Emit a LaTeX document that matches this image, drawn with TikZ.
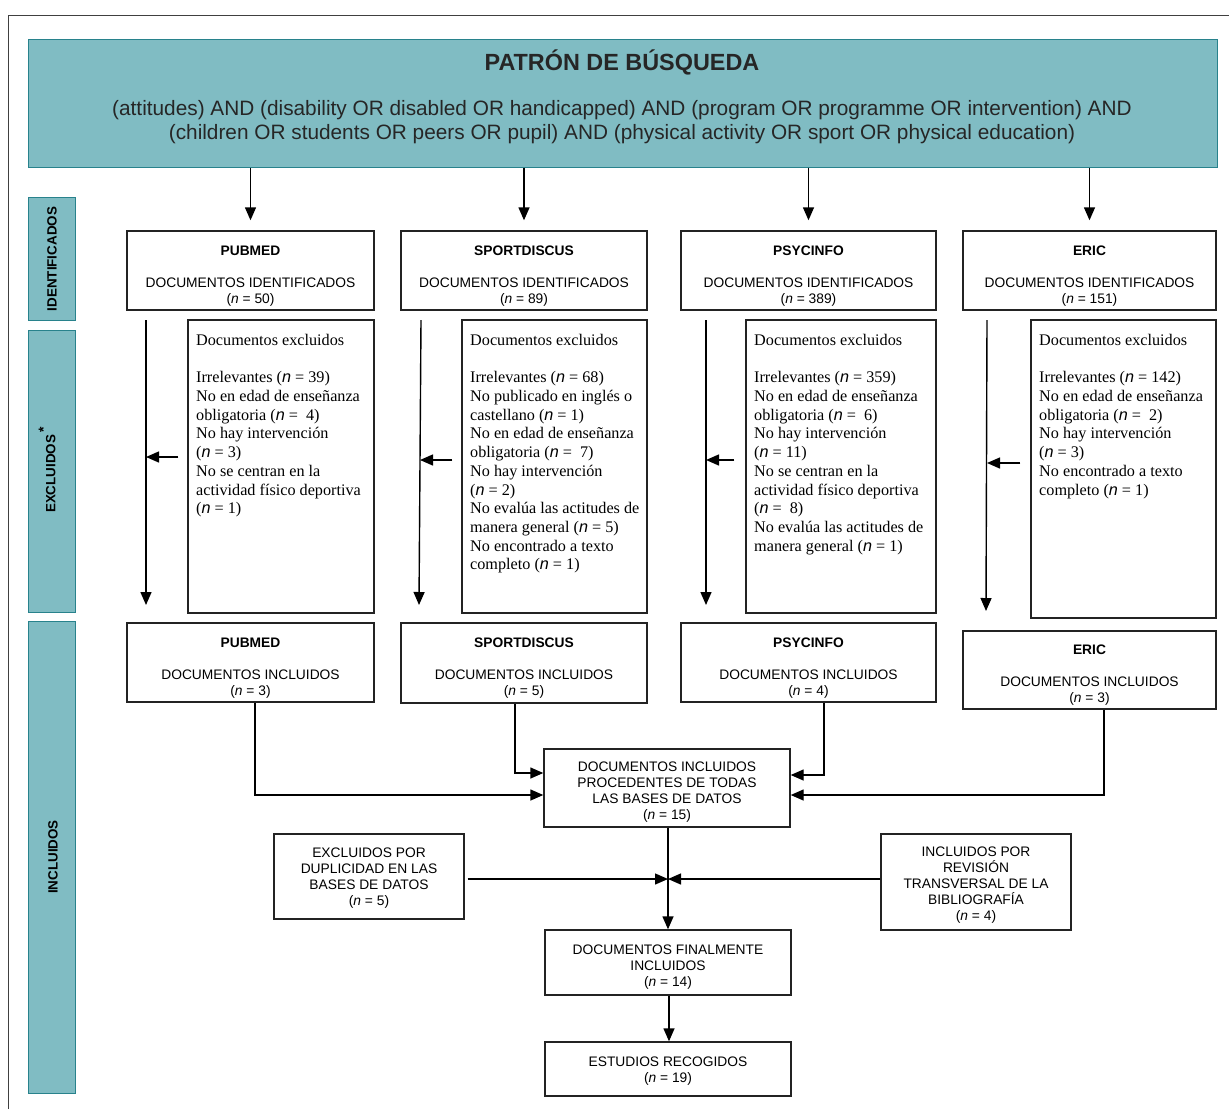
\documentclass[tikz,border=0pt]{standalone}
\usepackage{fontspec}
\setmainfont{Liberation Serif}
\setsansfont{Liberation Sans}
\usetikzlibrary{arrows.meta,calc}
\definecolor{tealfill}{RGB}{128,188,195}
\definecolor{tealline}{RGB}{40,130,140}
\definecolor{boxline}{RGB}{35,35,35}
\newcommand{\nn}{{\sffamily\itshape n}}
\newcommand{\lift}[1]{\rule{0pt}{#1pt}}
\tikzset{
  frameline/.style={line width=1pt, draw=black!75},
  sidebox/.style={draw=tealline, fill=tealfill, line width=1pt},
  sidelabel/.style={rotate=90, font=\sffamily\bfseries\fontsize{13.4}{16}\selectfont, inner sep=0pt},
  plainbox/.style={draw=boxline, line width=1.4pt, inner sep=0pt},
  sanstext/.style={font=\sffamily\fontsize{13.8}{16}\selectfont, align=center, inner sep=0pt},
  seriftext/.style={font=\fontsize{16.2}{18.7}\selectfont, align=left, inner sep=0pt, anchor=north west},
  arr/.style={line width=1.4pt, draw=black, -{Triangle[length=13pt,width=11pt]}},
}
\begin{document}
\begin{tikzpicture}[x=1pt,y=-1pt]
\useasboundingbox (0,0) rectangle (1229,1109);
% outer frame (top and left edges visible)
\draw[frameline] (8,1109) -- (8,15) -- (1229,15);

% banner
\node[sidebox, minimum width=1189pt, minimum height=128pt, inner sep=0pt] (banner) at (622.5,103) {};
\node[font=\sffamily\bfseries\fontsize{23.4}{27}\selectfont, text=black!85, inner sep=0pt] (title) at (622,62) {PATRÓN DE BÚSQUEDA};
\node[font=\sffamily\fontsize{20.8}{24}\selectfont, align=center, text=black!85, inner sep=0pt] (query) at (622,122)
  {(attitudes) AND (disability OR disabled OR handicapped) AND (program OR programme OR intervention) AND\\
   (children OR students OR peers OR pupil) AND (physical activity OR sport OR physical education)};

% side labels
\node[sidebox, minimum width=47pt, minimum height=123pt, inner sep=0pt] (sideid) at (51.5,258.5) {};
\node[sidelabel] (sideidt) at (52,259) {IDENTIFICADOS};
\node[sidebox, minimum width=47pt, minimum height=282pt, inner sep=0pt] (sideex) at (51.5,471.5) {};
\node[sidelabel] (sideext) at (47,470) {EXCLUIDOS\,\raisebox{7pt}{\fontsize{14}{14}\selectfont *}};
\node[sidebox, minimum width=47pt, minimum height=472pt, inner sep=0pt] (sidein) at (51.5,857) {};
\node[sidelabel] (sideint) at (53,857) {INCLUIDOS};

% identified boxes
\node[plainbox, sanstext, minimum width=247pt, minimum height=79pt] (id1) at (250.5,270.5)
  {\lift{20}\textbf{PUBMED}\\[16pt]DOCUMENTOS IDENTIFICADOS\\(\textit{n} = 50)};
\node[plainbox, sanstext, minimum width=246pt, minimum height=79pt] (id2) at (524,270.5)
  {\lift{20}\textbf{SPORTDISCUS}\\[16pt]DOCUMENTOS IDENTIFICADOS\\(\textit{n} = 89)};
\node[plainbox, sanstext, minimum width=255pt, minimum height=79pt] (id3) at (808.5,270.5)
  {\lift{20}\textbf{PSYCINFO}\\[16pt]DOCUMENTOS IDENTIFICADOS\\(\textit{n} = 389)};
\node[plainbox, sanstext, minimum width=253pt, minimum height=79pt] (id4) at (1089.5,270.5)
  {\lift{20}\textbf{ERIC}\\[16pt]DOCUMENTOS IDENTIFICADOS\\(\textit{n} = 151)};

\draw[arr] (banner.south -| id1) -- ([yshift=10pt]id1.north);
\draw[arr] (banner.south -| id2) -- ([yshift=10pt]id2.north);
\draw[arr] (banner.south -| id3) -- ([yshift=10pt]id3.north);
\draw[arr] (banner.south -| id4) -- ([yshift=10pt]id4.north);

% excluded boxes
\node[plainbox, minimum width=186pt, minimum height=293pt] (ex1) at (281,466.5) {};
\node[seriftext] (ex1t) at (196,334)
  {Documentos excluidos\\[18.7pt]
   Irrelevantes (\nn{} = 39)\\
   No en edad de enseñanza\\
   obligatoria (\nn{} =\ \ 4)\\
   No hay intervención\\
   (\nn{} = 3)\\
   No se centran en la\\
   actividad físico deportiva\\
   (\nn{} = 1)};
\node[plainbox, minimum width=185pt, minimum height=293pt] (ex2) at (554.5,466.5) {};
\node[seriftext] (ex2t) at (470,334)
  {Documentos excluidos\\[18.7pt]
   Irrelevantes (\nn{} = 68)\\
   No publicado en inglés o\\
   castellano (\nn{} = 1)\\
   No en edad de enseñanza\\
   obligatoria (\nn{} =\ \ 7)\\
   No hay intervención\\
   (\nn{} = 2)\\
   No evalúa las actitudes de\\
   manera general (\nn{} = 5)\\
   No encontrado a texto\\
   completo (\nn{} = 1)};
\node[plainbox, minimum width=190pt, minimum height=293pt] (ex3) at (841,466.5) {};
\node[seriftext] (ex3t) at (754,334)
  {Documentos excluidos\\[18.7pt]
   Irrelevantes (\nn{} = 359)\\
   No en edad de enseñanza\\
   obligatoria (\nn{} =\ \ 6)\\
   No hay intervención\\
   (\nn{} = 11)\\
   No se centran en la\\
   actividad físico deportiva\\
   (\nn{} =\ \ 8)\\
   No evalúa las actitudes de\\
   manera general (\nn{} = 1)};
\node[plainbox, minimum width=185pt, minimum height=298pt] (ex4) at (1123.5,469) {};
\node[seriftext] (ex4t) at (1039,334)
  {Documentos excluidos\\[18.7pt]
   Irrelevantes (\nn{} = 142)\\
   No en edad de enseñanza\\
   obligatoria (\nn{} =\ \ 2)\\
   No hay intervención\\
   (\nn{} = 3)\\
   No encontrado a texto\\
   completo (\nn{} = 1)};

% downward flows beside excluded boxes
\coordinate (d1s) at (146,320); \coordinate (d1e) at (146,605);
\coordinate (d2s) at (421,320); \coordinate (d2e) at (419,605);
\coordinate (d3s) at (706,320); \coordinate (d3e) at (706,605);
\coordinate (d4s) at (987,320); \coordinate (d4e) at (986,611);
\draw[arr] (d1s) -- (d1e);
\draw[arr] (d2s) -- (d2e);
\draw[arr] (d3s) -- (d3e);
\draw[arr] (d4s) -- (d4e);
\coordinate (h1) at (146,457);
\coordinate (h2) at (420,460);
\coordinate (h3) at (706,460);
\coordinate (h4) at (987,463);
\draw[arr] ([xshift=-9pt]ex1.west |- h1) -- (h1);
\draw[arr] ([xshift=-9pt]ex2.west |- h2) -- (h2);
\draw[arr] ([xshift=-11pt]ex3.west |- h3) -- (h3);
\draw[arr] ([xshift=-10pt]ex4.west |- h4) -- (h4);

% included boxes
\node[plainbox, sanstext, minimum width=247pt, minimum height=79pt] (in1) at (250.5,662.5)
  {\lift{20}\textbf{PUBMED}\\[16pt]DOCUMENTOS INCLUIDOS\\(\textit{n} = 3)};
\node[plainbox, sanstext, minimum width=246pt, minimum height=80pt] (in2) at (524,663)
  {\lift{19}\textbf{SPORTDISCUS}\\[16pt]DOCUMENTOS INCLUIDOS\\(\textit{n} = 5)};
\node[plainbox, sanstext, minimum width=255pt, minimum height=79pt] (in3) at (808.5,662.5)
  {\lift{20}\textbf{PSYCINFO}\\[16pt]DOCUMENTOS INCLUIDOS\\(\textit{n} = 4)};
\node[plainbox, sanstext, minimum width=253pt, minimum height=78pt] (in4) at (1089.5,670)
  {\lift{19}\textbf{ERIC}\\[16pt]DOCUMENTOS INCLUIDOS\\(\textit{n} = 3)};

% merged box
\node[plainbox, sanstext, minimum width=246pt, minimum height=78pt] (merge) at (667,788)
  {\lift{18}DOCUMENTOS INCLUIDOS\\PROCEDENTES DE TODAS\\LAS BASES DE DATOS\\(\textit{n} = 15)};
\draw[arr] ([xshift=4.5pt]in1.south) |- ([yshift=-7pt]merge.west);
\draw[arr] ([xshift=-9pt]in2.south) |- ([yshift=15pt]merge.west);
\draw[arr] ([xshift=15.5pt]in3.south) |- ([yshift=13pt]merge.east);
\draw[arr] ([xshift=14.5pt]in4.south) |- ([yshift=-7pt]merge.east);

% duplicates / revision
\node[plainbox, sanstext, minimum width=190pt, minimum height=85pt] (dup) at (369,876.5)
  {\lift{12}EXCLUIDOS POR\\DUPLICIDAD EN LAS\\BASES DE DATOS\\(\textit{n} = 5)};
\node[plainbox, sanstext, minimum width=190pt, minimum height=96pt] (rev) at (976,882)
  {\lift{15}INCLUIDOS POR\\REVISIÓN\\TRANSVERSAL DE LA\\BIBLIOGRAFÍA\\(\textit{n} = 4)};

\node[plainbox, sanstext, minimum width=246pt, minimum height=65pt] (final) at (668,962.5)
  {\lift{18}DOCUMENTOS FINALMENTE\\INCLUIDOS\\(\textit{n} = 14)};
\node[plainbox, sanstext, minimum width=246pt, minimum height=54pt] (est) at (668,1069)
  {\lift{13}ESTUDIOS RECOGIDOS\\(\textit{n} = 19)};

\coordinate (mid) at (668,879);
\draw[arr] (merge.south -| mid) -- (final.north -| mid);
\draw[arr] ([xshift=3pt]dup.east |- mid) -- (mid);
\draw[arr] (rev.west |- mid) -- (mid);
\draw[arr] (final.south -| 669,0) -- (est.north -| 669,0);
\end{tikzpicture}
\end{document}
